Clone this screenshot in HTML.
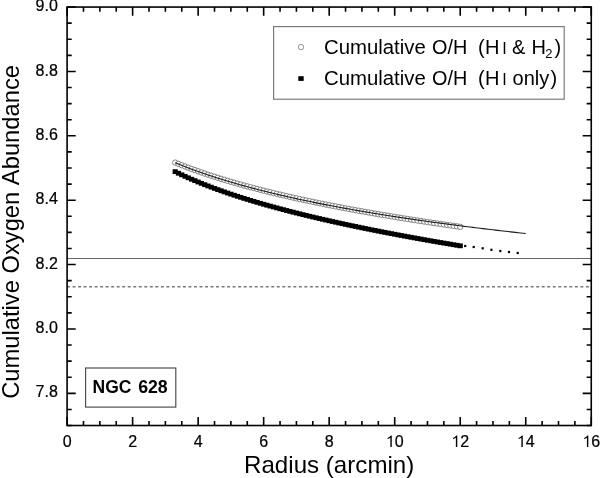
<!DOCTYPE html>
<html><head><meta charset="utf-8"><style>
html,body{margin:0;padding:0;background:#fff;width:600px;height:478px;overflow:hidden}
svg{display:block;will-change:transform}
text{font-family:"Liberation Sans",sans-serif;fill:#000;font-kerning:none}
</style></head><body>
<svg width="600" height="478" viewBox="0 0 600 478">
<rect x="0" y="0" width="600" height="478" fill="#fff"/>
<line x1="67.1" y1="258.5" x2="591.26" y2="258.5" stroke="#666" stroke-width="1.15"/>
<line x1="67.1" y1="286.8" x2="591.26" y2="286.8" stroke="#7a7a7a" stroke-width="1.4" stroke-dasharray="3 2.52" stroke-dashoffset="0.1"/>
<g fill="#000"><rect x="172.61" y="169.25" width="5.2" height="4.8"/><rect x="175.88" y="170.85" width="5.2" height="4.8"/><rect x="179.16" y="172.41" width="5.2" height="4.8"/><rect x="182.44" y="173.93" width="5.2" height="4.8"/><rect x="185.71" y="175.40" width="5.2" height="4.8"/><rect x="188.99" y="176.84" width="5.2" height="4.8"/><rect x="192.26" y="178.24" width="5.2" height="4.8"/><rect x="195.54" y="179.60" width="5.2" height="4.8"/><rect x="198.82" y="180.94" width="5.2" height="4.8"/><rect x="202.09" y="182.24" width="5.2" height="4.8"/><rect x="205.37" y="183.51" width="5.2" height="4.8"/><rect x="208.64" y="184.76" width="5.2" height="4.8"/><rect x="211.92" y="185.98" width="5.2" height="4.8"/><rect x="215.20" y="187.18" width="5.2" height="4.8"/><rect x="218.47" y="188.35" width="5.2" height="4.8"/><rect x="221.75" y="189.50" width="5.2" height="4.8"/><rect x="225.02" y="190.63" width="5.2" height="4.8"/><rect x="228.30" y="191.74" width="5.2" height="4.8"/><rect x="231.58" y="192.82" width="5.2" height="4.8"/><rect x="234.85" y="193.89" width="5.2" height="4.8"/><rect x="238.13" y="194.94" width="5.2" height="4.8"/><rect x="241.40" y="195.98" width="5.2" height="4.8"/><rect x="244.68" y="196.99" width="5.2" height="4.8"/><rect x="247.96" y="198.00" width="5.2" height="4.8"/><rect x="251.23" y="198.98" width="5.2" height="4.8"/><rect x="254.51" y="199.95" width="5.2" height="4.8"/><rect x="257.78" y="200.91" width="5.2" height="4.8"/><rect x="261.06" y="201.85" width="5.2" height="4.8"/><rect x="264.34" y="202.78" width="5.2" height="4.8"/><rect x="267.61" y="203.69" width="5.2" height="4.8"/><rect x="270.89" y="204.60" width="5.2" height="4.8"/><rect x="274.16" y="205.49" width="5.2" height="4.8"/><rect x="277.44" y="206.37" width="5.2" height="4.8"/><rect x="280.72" y="207.24" width="5.2" height="4.8"/><rect x="283.99" y="208.09" width="5.2" height="4.8"/><rect x="287.27" y="208.94" width="5.2" height="4.8"/><rect x="290.54" y="209.78" width="5.2" height="4.8"/><rect x="293.82" y="210.61" width="5.2" height="4.8"/><rect x="297.10" y="211.42" width="5.2" height="4.8"/><rect x="300.37" y="212.23" width="5.2" height="4.8"/><rect x="303.65" y="213.03" width="5.2" height="4.8"/><rect x="306.92" y="213.82" width="5.2" height="4.8"/><rect x="310.20" y="214.60" width="5.2" height="4.8"/><rect x="313.48" y="215.37" width="5.2" height="4.8"/><rect x="316.75" y="216.14" width="5.2" height="4.8"/><rect x="320.03" y="216.89" width="5.2" height="4.8"/><rect x="323.30" y="217.64" width="5.2" height="4.8"/><rect x="326.58" y="218.38" width="5.2" height="4.8"/><rect x="329.86" y="219.12" width="5.2" height="4.8"/><rect x="333.13" y="219.84" width="5.2" height="4.8"/><rect x="336.41" y="220.56" width="5.2" height="4.8"/><rect x="339.68" y="221.27" width="5.2" height="4.8"/><rect x="342.96" y="221.98" width="5.2" height="4.8"/><rect x="346.24" y="222.68" width="5.2" height="4.8"/><rect x="349.51" y="223.37" width="5.2" height="4.8"/><rect x="352.79" y="224.06" width="5.2" height="4.8"/><rect x="356.06" y="224.74" width="5.2" height="4.8"/><rect x="359.34" y="225.42" width="5.2" height="4.8"/><rect x="362.62" y="226.08" width="5.2" height="4.8"/><rect x="365.89" y="226.75" width="5.2" height="4.8"/><rect x="369.17" y="227.41" width="5.2" height="4.8"/><rect x="372.44" y="228.06" width="5.2" height="4.8"/><rect x="375.72" y="228.71" width="5.2" height="4.8"/><rect x="379.00" y="229.35" width="5.2" height="4.8"/><rect x="382.27" y="229.98" width="5.2" height="4.8"/><rect x="385.55" y="230.62" width="5.2" height="4.8"/><rect x="388.82" y="231.24" width="5.2" height="4.8"/><rect x="392.10" y="231.86" width="5.2" height="4.8"/><rect x="395.38" y="232.48" width="5.2" height="4.8"/><rect x="398.65" y="233.09" width="5.2" height="4.8"/><rect x="401.93" y="233.70" width="5.2" height="4.8"/><rect x="405.20" y="234.31" width="5.2" height="4.8"/><rect x="408.48" y="234.91" width="5.2" height="4.8"/><rect x="411.76" y="235.50" width="5.2" height="4.8"/><rect x="415.03" y="236.09" width="5.2" height="4.8"/><rect x="418.31" y="236.68" width="5.2" height="4.8"/><rect x="421.58" y="237.26" width="5.2" height="4.8"/><rect x="424.86" y="237.84" width="5.2" height="4.8"/><rect x="428.14" y="238.41" width="5.2" height="4.8"/><rect x="431.41" y="238.99" width="5.2" height="4.8"/><rect x="434.69" y="239.55" width="5.2" height="4.8"/><rect x="437.96" y="240.12" width="5.2" height="4.8"/><rect x="441.24" y="240.68" width="5.2" height="4.8"/><rect x="444.52" y="241.23" width="5.2" height="4.8"/><rect x="447.79" y="241.78" width="5.2" height="4.8"/><rect x="451.07" y="242.33" width="5.2" height="4.8"/><rect x="454.34" y="242.88" width="5.2" height="4.8"/><rect x="457.62" y="243.42" width="5.2" height="4.8"/></g>
<g fill="#000"><rect x="464.10" y="244.90" width="2.2" height="2.2"/><rect x="472.60" y="245.90" width="2.2" height="2.2"/><rect x="481.60" y="247.20" width="2.2" height="2.2"/><rect x="490.30" y="248.70" width="2.2" height="2.2"/><rect x="499.20" y="249.90" width="2.2" height="2.2"/><rect x="507.90" y="250.90" width="2.2" height="2.2"/><rect x="516.60" y="251.90" width="2.2" height="2.2"/></g>
<g fill="#fff" stroke="#7a7a7a" stroke-width="0.95"><circle cx="175.21" cy="162.58" r="2.7"/><circle cx="178.48" cy="163.92" r="2.7"/><circle cx="181.76" cy="165.22" r="2.7"/><circle cx="185.04" cy="166.49" r="2.7"/><circle cx="188.31" cy="167.73" r="2.7"/><circle cx="191.59" cy="168.95" r="2.7"/><circle cx="194.86" cy="170.14" r="2.7"/><circle cx="198.14" cy="171.30" r="2.7"/><circle cx="201.42" cy="172.44" r="2.7"/><circle cx="204.69" cy="173.56" r="2.7"/><circle cx="207.97" cy="174.66" r="2.7"/><circle cx="211.24" cy="175.73" r="2.7"/><circle cx="214.52" cy="176.79" r="2.7"/><circle cx="217.80" cy="177.82" r="2.7"/><circle cx="221.07" cy="178.84" r="2.7"/><circle cx="224.35" cy="179.84" r="2.7"/><circle cx="227.62" cy="180.82" r="2.7"/><circle cx="230.90" cy="181.78" r="2.7"/><circle cx="234.18" cy="182.73" r="2.7"/><circle cx="237.45" cy="183.67" r="2.7"/><circle cx="240.73" cy="184.58" r="2.7"/><circle cx="244.00" cy="185.49" r="2.7"/><circle cx="247.28" cy="186.38" r="2.7"/><circle cx="250.56" cy="187.26" r="2.7"/><circle cx="253.83" cy="188.12" r="2.7"/><circle cx="257.11" cy="188.97" r="2.7"/><circle cx="260.38" cy="189.81" r="2.7"/><circle cx="263.66" cy="190.64" r="2.7"/><circle cx="266.94" cy="191.46" r="2.7"/><circle cx="270.21" cy="192.26" r="2.7"/><circle cx="273.49" cy="193.06" r="2.7"/><circle cx="276.76" cy="193.84" r="2.7"/><circle cx="280.04" cy="194.61" r="2.7"/><circle cx="283.32" cy="195.38" r="2.7"/><circle cx="286.59" cy="196.13" r="2.7"/><circle cx="289.87" cy="196.88" r="2.7"/><circle cx="293.14" cy="197.61" r="2.7"/><circle cx="296.42" cy="198.34" r="2.7"/><circle cx="299.70" cy="199.06" r="2.7"/><circle cx="302.97" cy="199.77" r="2.7"/><circle cx="306.25" cy="200.47" r="2.7"/><circle cx="309.52" cy="201.16" r="2.7"/><circle cx="312.80" cy="201.85" r="2.7"/><circle cx="316.08" cy="202.53" r="2.7"/><circle cx="319.35" cy="203.20" r="2.7"/><circle cx="322.63" cy="203.86" r="2.7"/><circle cx="325.90" cy="204.52" r="2.7"/><circle cx="329.18" cy="205.17" r="2.7"/><circle cx="332.46" cy="205.81" r="2.7"/><circle cx="335.73" cy="206.44" r="2.7"/><circle cx="339.01" cy="207.07" r="2.7"/><circle cx="342.28" cy="207.70" r="2.7"/><circle cx="345.56" cy="208.31" r="2.7"/><circle cx="348.84" cy="208.93" r="2.7"/><circle cx="352.11" cy="209.53" r="2.7"/><circle cx="355.39" cy="210.13" r="2.7"/><circle cx="358.66" cy="210.72" r="2.7"/><circle cx="361.94" cy="211.31" r="2.7"/><circle cx="365.22" cy="211.89" r="2.7"/><circle cx="368.49" cy="212.47" r="2.7"/><circle cx="371.77" cy="213.04" r="2.7"/><circle cx="375.04" cy="213.61" r="2.7"/><circle cx="378.32" cy="214.17" r="2.7"/><circle cx="381.60" cy="214.73" r="2.7"/><circle cx="384.87" cy="215.28" r="2.7"/><circle cx="388.15" cy="215.83" r="2.7"/><circle cx="391.42" cy="216.37" r="2.7"/><circle cx="394.70" cy="216.91" r="2.7"/><circle cx="397.98" cy="217.44" r="2.7"/><circle cx="401.25" cy="217.97" r="2.7"/><circle cx="404.53" cy="218.50" r="2.7"/><circle cx="407.80" cy="219.02" r="2.7"/><circle cx="411.08" cy="219.53" r="2.7"/><circle cx="414.36" cy="220.05" r="2.7"/><circle cx="417.63" cy="220.55" r="2.7"/><circle cx="420.91" cy="221.06" r="2.7"/><circle cx="424.18" cy="221.56" r="2.7"/><circle cx="427.46" cy="222.05" r="2.7"/><circle cx="430.74" cy="222.55" r="2.7"/><circle cx="434.01" cy="223.04" r="2.7"/><circle cx="437.29" cy="223.52" r="2.7"/><circle cx="440.56" cy="224.00" r="2.7"/><circle cx="443.84" cy="224.48" r="2.7"/><circle cx="447.12" cy="224.96" r="2.7"/><circle cx="450.39" cy="225.43" r="2.7"/><circle cx="453.67" cy="225.90" r="2.7"/><circle cx="456.94" cy="226.36" r="2.7"/><circle cx="460.22" cy="226.82" r="2.7"/></g>
<path d="M175.21,162.82 L177.73,163.85 L180.25,164.85 L182.77,165.85 L185.30,166.82 L187.82,167.78 L190.34,168.72 L192.86,169.65 L195.38,170.56 L197.90,171.46 L200.43,172.35 L202.95,173.22 L205.47,174.08 L207.99,174.93 L210.51,175.77 L213.04,176.59 L215.56,177.40 L218.08,178.20 L220.60,178.99 L223.12,179.77 L225.64,180.54 L228.17,181.30 L230.69,182.04 L233.21,182.78 L235.73,183.51 L238.25,184.23 L240.78,184.94 L243.30,185.64 L245.82,186.33 L248.34,187.02 L250.86,187.70 L253.38,188.36 L255.91,189.02 L258.43,189.67 L260.95,190.32 L263.47,190.96 L265.99,191.59 L268.52,192.21 L271.04,192.82 L273.56,193.43 L276.08,194.03 L278.60,194.63 L281.12,195.22 L283.65,195.80 L286.17,196.38 L288.69,196.95 L291.21,197.51 L293.73,198.07 L296.26,198.62 L298.78,199.17 L301.30,199.71 L303.82,200.25 L306.34,200.78 L308.86,201.31 L311.39,201.83 L313.91,202.34 L316.43,202.85 L318.95,203.36 L321.47,203.86 L323.99,204.35 L326.52,204.85 L329.04,205.33 L331.56,205.81 L334.08,206.29 L336.60,206.77 L339.13,207.24 L341.65,207.70 L344.17,208.16 L346.69,208.62 L349.21,209.07 L351.73,209.52 L354.26,209.97 L356.78,210.41 L359.30,210.84 L361.82,211.28 L364.34,211.71 L366.87,212.13 L369.39,212.56 L371.91,212.98 L374.43,213.39 L376.95,213.81 L379.47,214.22 L382.00,214.62 L384.52,215.02 L387.04,215.42 L389.56,215.82 L392.08,216.21 L394.61,216.60 L397.13,216.99 L399.65,217.38 L402.17,217.76 L404.69,218.14 L407.21,218.51 L409.74,218.88 L412.26,219.25 L414.78,219.62 L417.30,219.98 L419.82,220.35 L422.35,220.71 L424.87,221.06 L427.39,221.42 L429.91,221.77 L432.43,222.12 L434.95,222.46 L437.48,222.81 L440.00,223.15 L442.52,223.49 L445.04,223.82 L447.56,224.16 L450.09,224.49 L452.61,224.82 L455.13,225.15 L457.65,225.47 L460.17,225.80 L462.69,226.12 L465.22,226.44 L467.74,226.75 L470.26,227.07 L472.78,227.38 L475.30,227.69 L477.83,228.00 L480.35,228.31 L482.87,228.61 L485.39,228.91 L487.91,229.21 L490.43,229.51 L492.96,229.81 L495.48,230.10 L498.00,230.40 L500.52,230.69 L503.04,230.98 L505.57,231.27 L508.09,231.55 L510.61,231.84 L513.13,232.12 L515.65,232.40 L518.17,232.68 L520.70,232.96 L523.22,233.23 L525.74,233.50" fill="none" stroke="#1a1a1a" stroke-width="1.1"/>
<path d="M67.10,425.52 v-8.6 M67.10,7.05 v8.6 M83.48,425.52 v-4.6 M83.48,7.05 v4.6 M99.86,425.52 v-4.6 M99.86,7.05 v4.6 M116.24,425.52 v-4.6 M116.24,7.05 v4.6 M132.62,425.52 v-8.6 M132.62,7.05 v8.6 M149.00,425.52 v-4.6 M149.00,7.05 v4.6 M165.38,425.52 v-4.6 M165.38,7.05 v4.6 M181.76,425.52 v-4.6 M181.76,7.05 v4.6 M198.14,425.52 v-8.6 M198.14,7.05 v8.6 M214.52,425.52 v-4.6 M214.52,7.05 v4.6 M230.90,425.52 v-4.6 M230.90,7.05 v4.6 M247.28,425.52 v-4.6 M247.28,7.05 v4.6 M263.66,425.52 v-8.6 M263.66,7.05 v8.6 M280.04,425.52 v-4.6 M280.04,7.05 v4.6 M296.42,425.52 v-4.6 M296.42,7.05 v4.6 M312.80,425.52 v-4.6 M312.80,7.05 v4.6 M329.18,425.52 v-8.6 M329.18,7.05 v8.6 M345.56,425.52 v-4.6 M345.56,7.05 v4.6 M361.94,425.52 v-4.6 M361.94,7.05 v4.6 M378.32,425.52 v-4.6 M378.32,7.05 v4.6 M394.70,425.52 v-8.6 M394.70,7.05 v8.6 M411.08,425.52 v-4.6 M411.08,7.05 v4.6 M427.46,425.52 v-4.6 M427.46,7.05 v4.6 M443.84,425.52 v-4.6 M443.84,7.05 v4.6 M460.22,425.52 v-8.6 M460.22,7.05 v8.6 M476.60,425.52 v-4.6 M476.60,7.05 v4.6 M492.98,425.52 v-4.6 M492.98,7.05 v4.6 M509.36,425.52 v-4.6 M509.36,7.05 v4.6 M525.74,425.52 v-8.6 M525.74,7.05 v8.6 M542.12,425.52 v-4.6 M542.12,7.05 v4.6 M558.50,425.52 v-4.6 M558.50,7.05 v4.6 M574.88,425.52 v-4.6 M574.88,7.05 v4.6 M591.26,425.52 v-8.6 M591.26,7.05 v8.6 M67.10,425.52 h4.6 M591.26,425.52 h-4.6 M67.10,409.43 h4.6 M591.26,409.43 h-4.6 M67.10,393.33 h8.6 M591.26,393.33 h-8.6 M67.10,377.23 h4.6 M591.26,377.23 h-4.6 M67.10,361.14 h4.6 M591.26,361.14 h-4.6 M67.10,345.04 h4.6 M591.26,345.04 h-4.6 M67.10,328.95 h8.6 M591.26,328.95 h-8.6 M67.10,312.85 h4.6 M591.26,312.85 h-4.6 M67.10,296.76 h4.6 M591.26,296.76 h-4.6 M67.10,280.66 h4.6 M591.26,280.66 h-4.6 M67.10,264.57 h8.6 M591.26,264.57 h-8.6 M67.10,248.47 h4.6 M591.26,248.47 h-4.6 M67.10,232.38 h4.6 M591.26,232.38 h-4.6 M67.10,216.29 h4.6 M591.26,216.29 h-4.6 M67.10,200.19 h8.6 M591.26,200.19 h-8.6 M67.10,184.10 h4.6 M591.26,184.10 h-4.6 M67.10,168.00 h4.6 M591.26,168.00 h-4.6 M67.10,151.90 h4.6 M591.26,151.90 h-4.6 M67.10,135.81 h8.6 M591.26,135.81 h-8.6 M67.10,119.71 h4.6 M591.26,119.71 h-4.6 M67.10,103.62 h4.6 M591.26,103.62 h-4.6 M67.10,87.52 h4.6 M591.26,87.52 h-4.6 M67.10,71.43 h8.6 M591.26,71.43 h-8.6 M67.10,55.34 h4.6 M591.26,55.34 h-4.6 M67.10,39.24 h4.6 M591.26,39.24 h-4.6 M67.10,23.15 h4.6 M591.26,23.15 h-4.6 M67.10,7.05 h8.6 M591.26,7.05 h-8.6" stroke="#000" stroke-width="1.6" fill="none"/>
<rect x="67.1" y="7.05" width="524.16" height="418.47" fill="none" stroke="#000" stroke-width="1.6"/>
<g font-size="16" stroke="#000" stroke-width="0.22"><text x="67.10" y="447.00" text-anchor="middle">0</text><text x="132.62" y="447.00" text-anchor="middle">2</text><text x="198.14" y="447.00" text-anchor="middle">4</text><text x="263.66" y="447.00" text-anchor="middle">6</text><text x="329.18" y="447.00" text-anchor="middle">8</text><path transform="translate(385.80,447.00) scale(0.0078125,-0.0078125)" d="M583,0 L763,0 L763,1466 L646,1466 Q560,1320 223,1160 L223,1010 Q430,1090 583,1200 Z"/><text x="394.70" y="447.00">0</text><path transform="translate(451.32,447.00) scale(0.0078125,-0.0078125)" d="M583,0 L763,0 L763,1466 L646,1466 Q560,1320 223,1160 L223,1010 Q430,1090 583,1200 Z"/><text x="460.22" y="447.00">2</text><path transform="translate(516.84,447.00) scale(0.0078125,-0.0078125)" d="M583,0 L763,0 L763,1466 L646,1466 Q560,1320 223,1160 L223,1010 Q430,1090 583,1200 Z"/><text x="525.74" y="447.00">4</text><path transform="translate(582.36,447.00) scale(0.0078125,-0.0078125)" d="M583,0 L763,0 L763,1466 L646,1466 Q560,1320 223,1160 L223,1010 Q430,1090 583,1200 Z"/><text x="591.26" y="447.00">6</text><text x="57.8" y="397.43" text-anchor="end">7.8</text><text x="57.8" y="333.05" text-anchor="end">8.0</text><text x="57.8" y="268.67" text-anchor="end">8.2</text><text x="57.8" y="204.29" text-anchor="end">8.4</text><text x="57.8" y="139.91" text-anchor="end">8.6</text><text x="57.8" y="75.53" text-anchor="end">8.8</text><text x="57.8" y="11.15" text-anchor="end">9.0</text></g>
<rect x="273.6" y="26.6" width="290.6" height="72.6" fill="#fff" stroke="#777" stroke-width="1.15"/>
<circle cx="301.0" cy="47.1" r="2.7" fill="#fff" stroke="#888" stroke-width="0.9"/>
<rect x="298.3" y="76.2" width="5.4" height="4.7" fill="#000"/>
<rect x="85.6" y="368.0" width="90.2" height="39.1" fill="#fff" stroke="#4a4a4a" stroke-width="1.15"/>
<text x="244.02" y="472.70" font-size="24" textLength="170.28" lengthAdjust="spacingAndGlyphs" >Radius (arcmin)</text><text transform="translate(19,398.81) rotate(-90)" x="0" y="0" font-size="24" textLength="333.76" lengthAdjust="spacingAndGlyphs">Cumulative Oxygen Abundance</text><text x="323.97" y="53.60" font-size="20" textLength="101.84" lengthAdjust="spacingAndGlyphs" >Cumulative</text><text x="431.96" y="53.60" font-size="20" textLength="35.26" lengthAdjust="spacingAndGlyphs" >O/H</text><text x="477.96" y="53.60" font-size="20" >(</text><text x="484.96" y="53.60" font-size="20" >H</text><text x="502.32" y="53.60" font-size="16" >I</text><text x="323.97" y="84.70" font-size="20" textLength="101.84" lengthAdjust="spacingAndGlyphs" >Cumulative</text><text x="431.96" y="84.70" font-size="20" textLength="35.26" lengthAdjust="spacingAndGlyphs" >O/H</text><text x="477.96" y="84.70" font-size="20" >(</text><text x="484.96" y="84.70" font-size="20" >H</text><text x="502.32" y="84.70" font-size="16" >I</text><text x="511.90" y="53.60" font-size="20" >&amp;</text><text x="531.46" y="53.60" font-size="20" >H</text><text x="545.35" y="58.00" font-size="13" >2</text><text x="554.48" y="53.60" font-size="20" >)</text><text x="512.56" y="84.70" font-size="20" >only</text><text x="550.48" y="84.70" font-size="20" >)</text><text x="92.53" y="392.50" font-size="18" font-weight="bold" textLength="38.85" lengthAdjust="spacingAndGlyphs" >NGC</text><text x="138.15" y="392.50" font-size="18" font-weight="bold" textLength="29.60" lengthAdjust="spacingAndGlyphs" >628</text>
</svg>
</body></html>
